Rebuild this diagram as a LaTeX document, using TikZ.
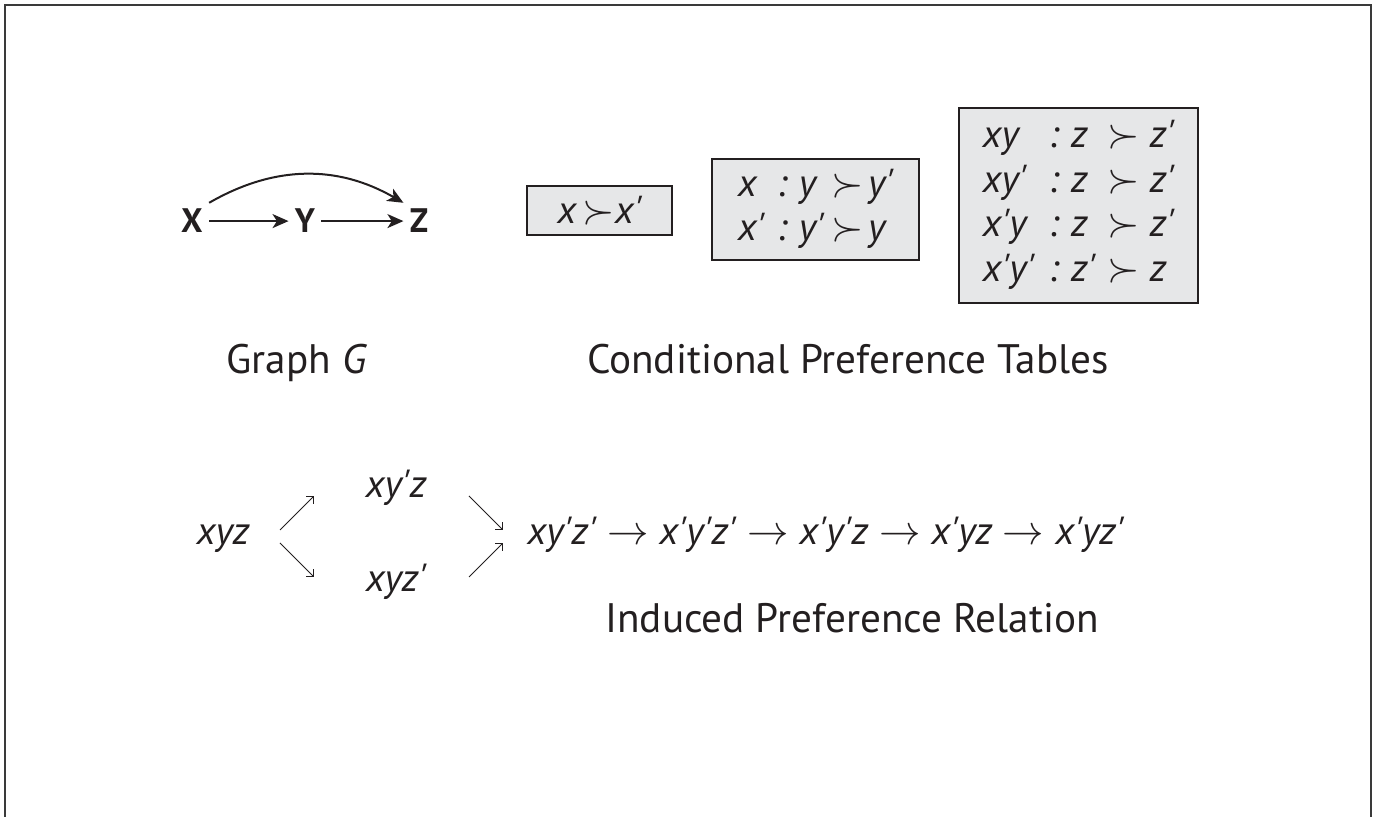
\documentclass[tikz,border=0pt]{standalone}
\usepackage{fontspec}
\setmainfont{PT Sans}
\usetikzlibrary{positioning,arrows.meta}
\definecolor{ink}{HTML}{231F20}
\definecolor{boxgray}{HTML}{E6E7E8}
\definecolor{framegray}{HTML}{3A3A3A}
\newcommand{\pr}{\textquotesingle}
\newcommand{\chto}{\;$\rightarrow$\;}
\begin{document}
\begin{tikzpicture}[x=0.5pt, y=-0.5pt, color=ink,
  var/.style={font=\fontsize{17}{20}\selectfont\bfseries, inner sep=3pt},
  garr/.style={-{Stealth[length=8pt,width=7pt,inset=2.2pt]}, line width=1pt},
  cpt/.style={draw=ink, fill=boxgray, line width=1pt, inner sep=0pt, font=\fontsize{19.5}{22.4}\selectfont\itshape},
  caption/.style={font=\fontsize{20.6}{24}\selectfont, inner sep=0pt, anchor=base},
  rel/.style={font=\fontsize{19.6}{24}\selectfont\itshape, inner sep=0pt, anchor=base},
  dar/.style={-{Straight Barb[length=2.5pt,width=5pt]}, line width=0.5pt}]
\useasboundingbox (0,0) rectangle (1373,817);
\draw[framegray, line width=1pt] (4.5,817) -- (4.5,5.5) -- (1370.5,5.5) -- (1370.5,817);
% graph G
\node[var, anchor=base] (X) at (192,233) {X};
\node[var, anchor=base] (Y) at (305,233) {Y};
\node[var, anchor=base] (Z) at (419,233) {Z};
\draw[garr] (X) -- (Y);
\draw[garr] (Y) -- (Z);
\draw[garr] (X.north east) to[bend left=30] (Z.north west);
\node[caption] (capG) at (297,374) {Graph \textit{G}};
% preference tables
\node[cpt, minimum width=72.5pt, minimum height=24.5pt] (cptX) at (599.5,210.5) {x\,$\succ$x\pr};
\node[cpt, minimum width=103.5pt, minimum height=50.5pt] (cptY) at (815.5,209.5)
  {\begin{tabular}{@{}l@{\hspace{6pt}:\hspace{6pt}}l@{\hspace{4pt}}c@{\hspace{2pt}}l@{}}
   x & y & $\succ$ & y\pr\\
   x\pr & y\pr & $\succ$ & y
   \end{tabular}};
\node[cpt, minimum width=119.5pt, minimum height=97.5pt] (cptZ) at (1078.5,205.5)
  {\begin{tabular}{@{}l@{\hspace{7pt}:\hspace{6pt}}l@{\hspace{6pt}}c@{\hspace{5pt}}l@{}}
   xy & z & $\succ$ & z\pr\\
   xy\pr & z & $\succ$ & z\pr\\
   x\pr y & z & $\succ$ & z\pr\\
   x\pr y\pr & z\pr & $\succ$ & z
   \end{tabular}};
\node[caption] (capT) at (848,374) {Conditional Preference Tables};
% induced relation
\node[rel] (xyz) at (223,545) {xyz};
\node[rel] (xypz) at (396,498) {xy\pr z};
\node[rel] (xyzp) at (396,592) {xyz\pr};
\node[rel, anchor=base west] (chain) at (527,545)
  {xy\pr z\pr\chto x\pr y\pr z\pr\chto x\pr y\pr z\chto x\pr yz\chto x\pr yz\pr};
\coordinate (ua) at (280,530);
\coordinate (ub) at (314,496);
\coordinate (da) at (280,543);
\coordinate (db) at (314,577);
\coordinate (ra) at (469,496);
\coordinate (rb) at (503,530);
\coordinate (sa) at (469,577);
\coordinate (sb) at (503,543);
\draw[dar] (ua) -- (ub);
\draw[dar] (da) -- (db);
\draw[dar] (ra) -- (rb);
\draw[dar] (sa) -- (sb);
\node[caption] (capR) at (852,633) {Induced Preference Relation};
\end{tikzpicture}
\end{document}
